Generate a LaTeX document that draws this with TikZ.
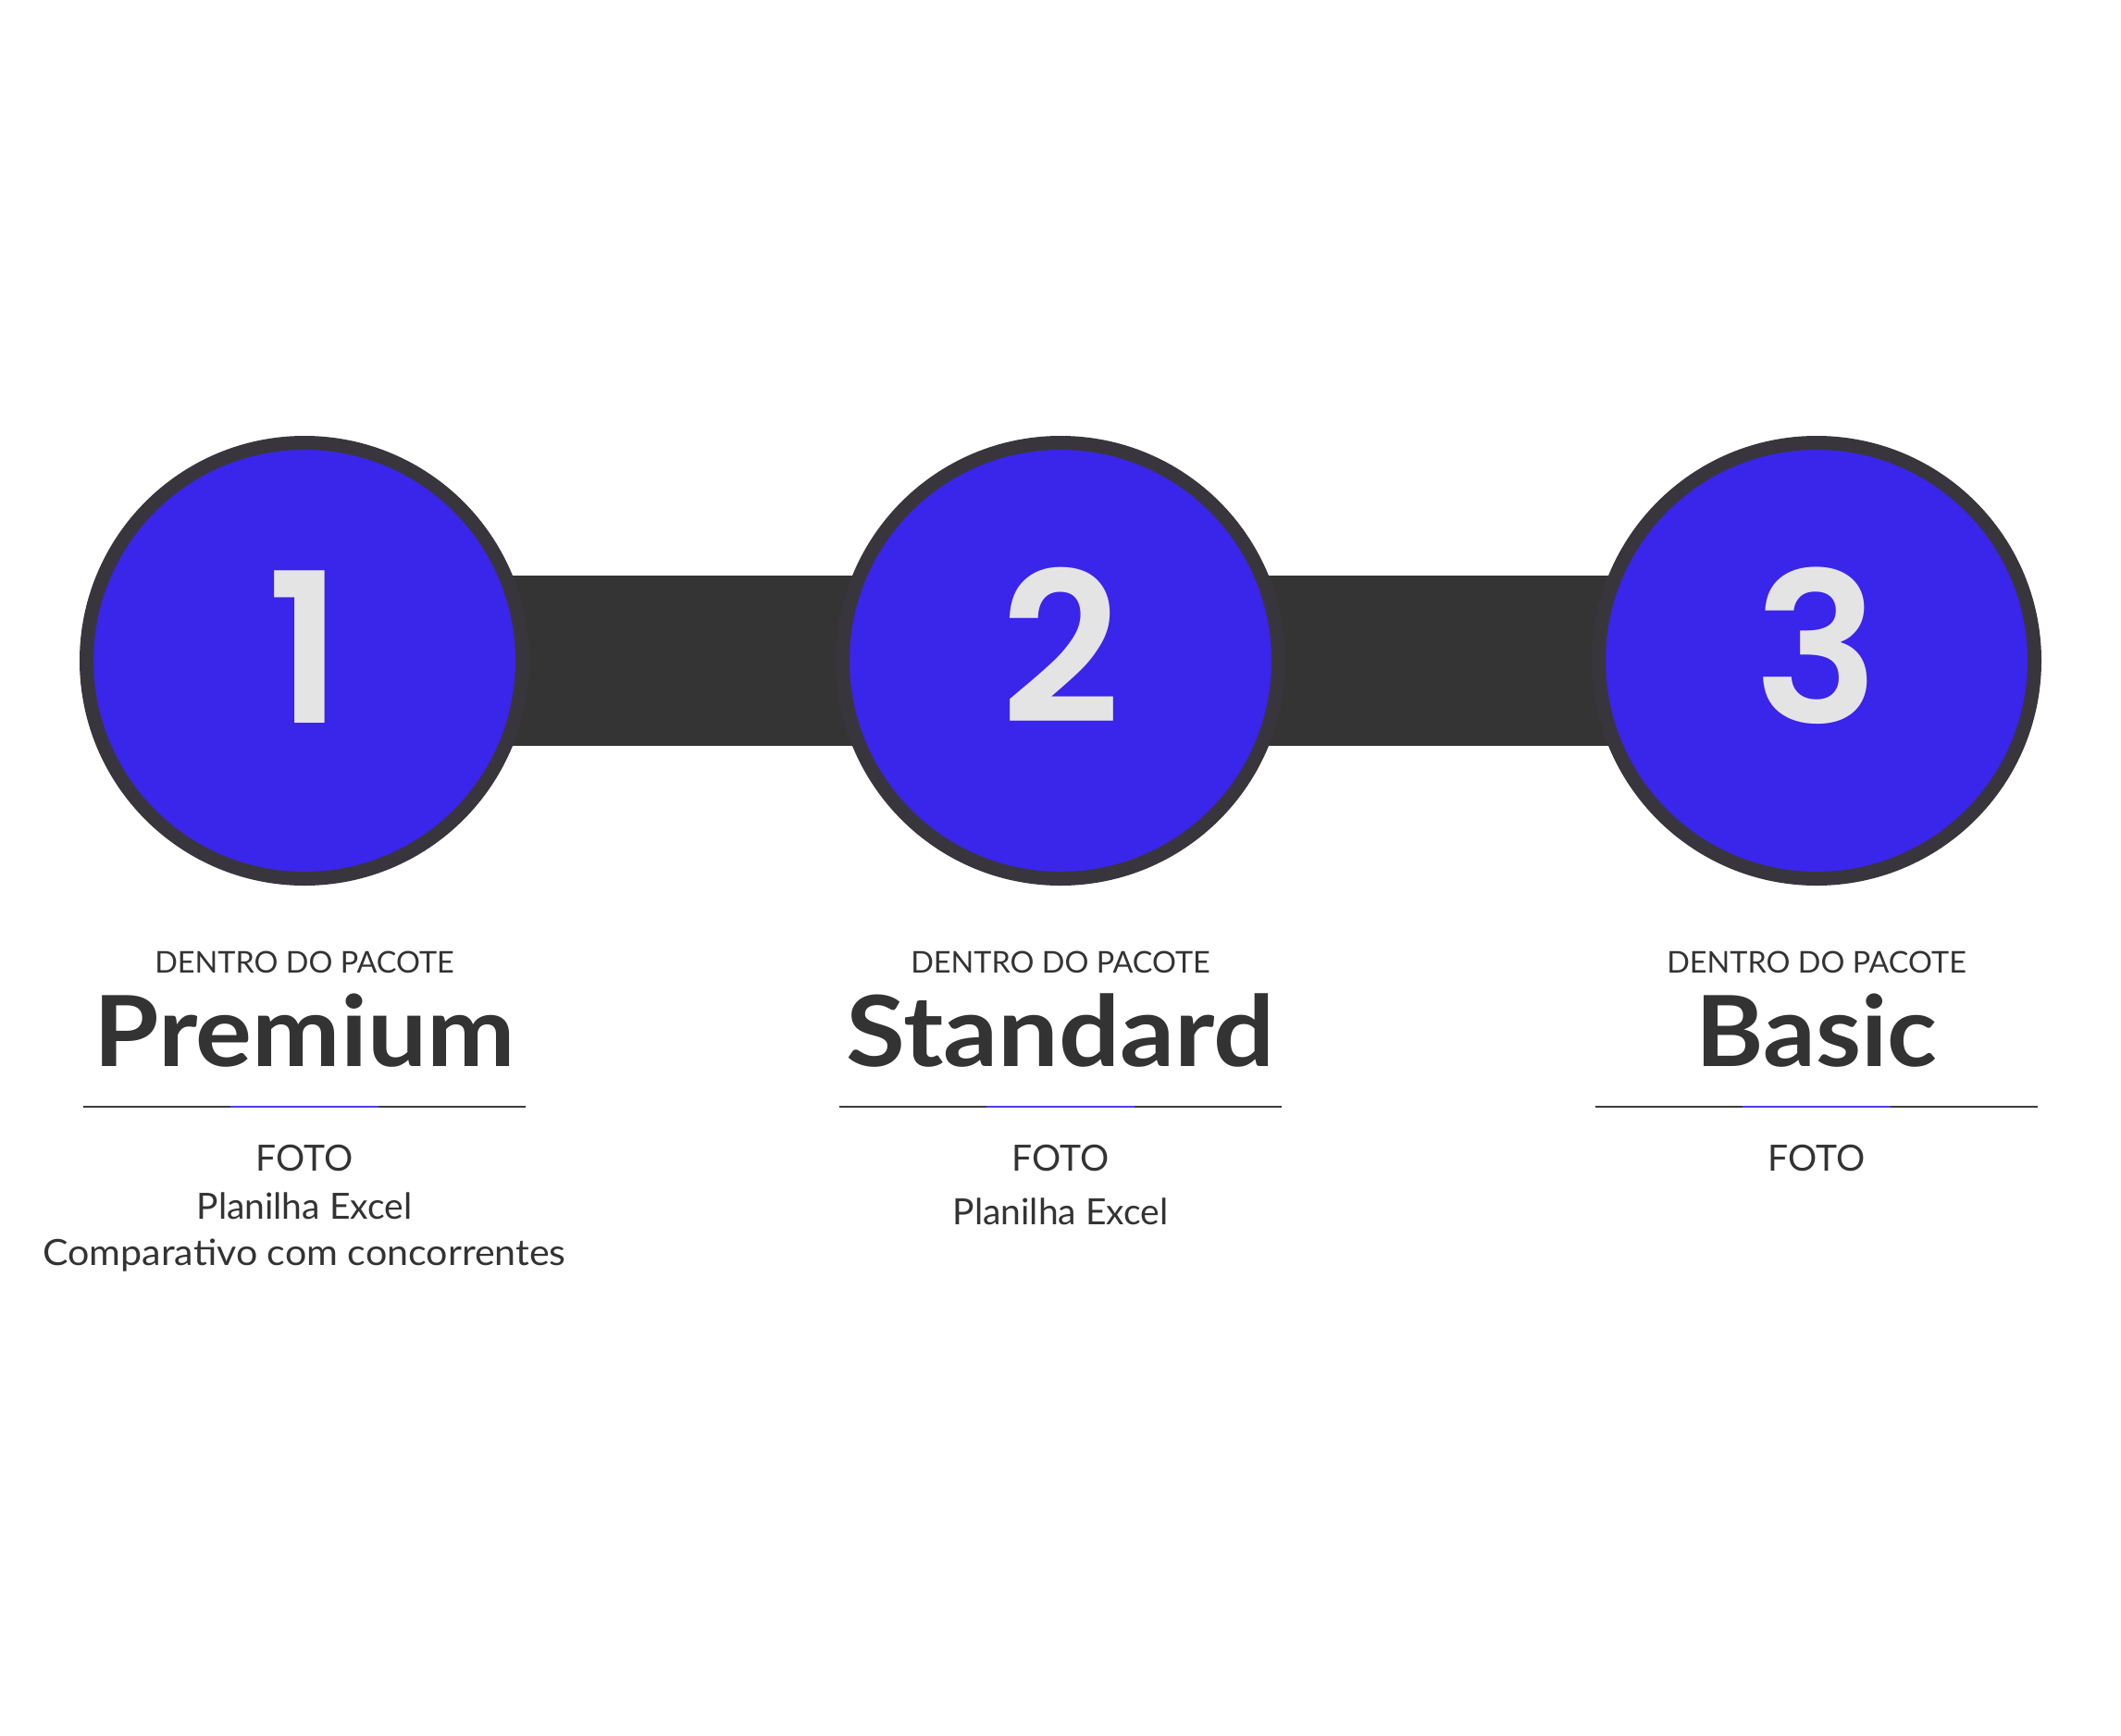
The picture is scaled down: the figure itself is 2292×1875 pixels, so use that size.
\documentclass[tikz,border=0pt]{standalone}
\usepackage{fontspec}
\usepackage{graphicx}
\setmainfont{Lato}
\newfontfamily\digitfont{Poppins SemiBold}
\usetikzlibrary{backgrounds}
\pgfdeclarelayer{paper}
\pgfsetlayers{paper,background,main}
\definecolor{blueC}{HTML}{3A25EB}
\definecolor{ringC}{HTML}{38363C}
\definecolor{barC}{HTML}{343434}
\definecolor{digitC}{HTML}{E4E4E4}
\definecolor{textC}{HTML}{333333}
\definecolor{ruleC}{HTML}{3C3C3C}
\definecolor{ruleblue}{HTML}{4B3DF2}
\begin{document}
\begin{tikzpicture}[x=1pt,y=-1pt,
  stepcircle/.style={circle, fill=blueC, draw=ringC, line width=15pt, minimum size=471pt, inner sep=0pt},
  digit/.style={text=digitC, font=\digitfont\fontsize{226}{226}\selectfont, anchor=base, inner sep=0pt},
  kicker/.style={text=textC, font=\fontsize{32.4}{33}\selectfont, anchor=base, inner sep=0pt},
  pkgtitle/.style={text=textC, font=\bfseries\fontsize{106}{106}\selectfont, anchor=base, inner sep=0pt},
  item/.style={text=textC, font=\fontsize{39}{39}\selectfont, anchor=base, inner sep=0pt},
  bar/.style={draw=barC, line width=184pt},
  ruledark/.style={draw=ruleC, line width=2.5pt},
  ruleaccent/.style={draw=ruleblue, line width=2.5pt}
]
\useasboundingbox (0,0) rectangle (2292,1875);
\begin{pgfonlayer}{paper}
  \fill[white] (0,0) rectangle (2292,1875);
\end{pgfonlayer}

% circles
\node[stepcircle] (c1) at (329,714) {};
\node[stepcircle] (c2) at (1146,714) {};
\node[stepcircle] (c3) at (1963,714) {};

% connecting bars
\begin{scope}[on background layer]
  \draw[bar] (c1.center) -- (c2.center);
  \draw[bar] (c2.center) -- (c3.center);
\end{scope}

% digits
\node[digit] (d1) at (329,781) {1};
\node[digit] (d2) at (1146,781) {2};
\node[digit] (d3) at (1963,781) {3};

% column 1
\node[kicker] (k1) at (329,1051.7) {DENTRO DO PACOTE};
\node[pkgtitle] (t1) at (329,1152.7) {\scalebox{1.075}[1]{Premium}};
\draw[ruledark] (90,1196) -- (568,1196);
\draw[ruleaccent] (249,1196) -- (409,1196);
\node[item] (f1) at (329,1265) {FOTO};
\node[item] (p1) at (329,1317.4) {Planilha Excel};
\node[item] (m1) at (329,1367.7) {\scalebox{1.055}[1]{Comparativo com concorrentes}};

% column 2
\node[kicker] (k2) at (1146,1051.7) {DENTRO DO PACOTE};
\node[pkgtitle] (t2) at (1146,1152.7) {\scalebox{1.1}[1]{Standard}};
\draw[ruledark] (907,1196) -- (1385,1196);
\draw[ruleaccent] (1066,1196) -- (1226,1196);
\node[item] (f2) at (1146,1265) {FOTO};
\node[item] (p2) at (1146,1323.4) {Planilha Excel};

% column 3
\node[kicker] (k3) at (1963,1051.7) {DENTRO DO PACOTE};
\node[pkgtitle] (t3) at (1963,1152.7) {\scalebox{1.055}[1]{Basic}};
\draw[ruledark] (1724,1196) -- (2202,1196);
\draw[ruleaccent] (1883,1196) -- (2043,1196);
\node[item] (f3) at (1963,1265) {FOTO};
\end{tikzpicture}
\end{document}
